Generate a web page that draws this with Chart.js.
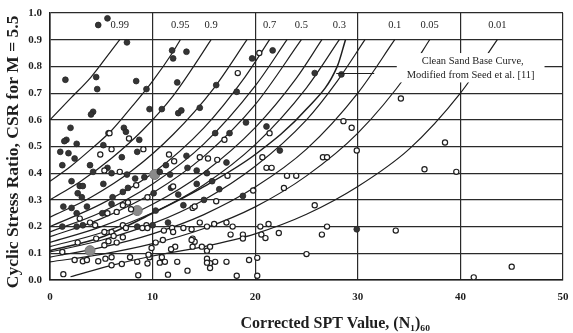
<!DOCTYPE html>
<html><head><meta charset="utf-8">
<script src="https://cdn.jsdelivr.net/npm/chart.js@4"></script>
<style>html,body{margin:0;padding:0;background:#fff}#wrap{width:573px;height:333px}</style>
</head><body><div id="wrap"><canvas id="c" width="573" height="333"></canvas></div>
<script>
// ---- data ----
const xTicks = [0, 10, 20, 30, 40, 50];
const yTicks = [0.0, 0.1, 0.2, 0.3, 0.4, 0.5, 0.6, 0.7, 0.8, 0.9, 1.0];

// probability curves [N1_60, CSR]
const curve099 = [[0,0.60],[2,0.68],[4,0.76],[6,0.86],[6.8,0.90]];
const curve095 = [[0,0.37],[2,0.425],[4,0.49],[6,0.56],[8,0.65],[10,0.745],[12,0.855],[12.7,0.90]];
const curve090 = [[0,0.30],[3,0.37],[6,0.456],[9,0.56],[12,0.69],[14,0.80],[15.7,0.90]];
const curve080 = [[0,0.235],[4,0.31],[8,0.41],[12,0.545],[16,0.72],[19.2,0.90]];
const curve070 = [[0,0.20],[5,0.285],[10,0.40],[15,0.57],[19,0.76],[21.4,0.90]];
const curve060 = [[0,0.18],[5,0.254],[10,0.36],[15,0.51],[20,0.727],[23.1,0.90]];
const curve050 = [[0,0.162],[5,0.23],[10,0.326],[15,0.463],[20,0.657],[24.5,0.90]];
const curve040 = [[0,0.141],[5,0.20],[10,0.284],[15,0.403],[20,0.571],[24,0.755],[26.5,0.90]];
const curve030 = [[0,0.125],[5,0.177],[10,0.252],[15,0.357],[20,0.507],[25,0.72],[28.2,0.90]];
const curve020 = [[0,0.105],[5,0.149],[10,0.211],[15,0.30],[20,0.426],[25,0.60],[28,0.745],[30.7,0.90]];
const curve010 = [[0,0.086],[5,0.122],[10,0.173],[15,0.245],[20,0.348],[25,0.49],[30,0.70],[33.6,0.90]];
const curve005 = [[0,0.068],[5,0.096],[10,0.136],[15,0.193],[20,0.274],[25,0.39],[30,0.55],[35,0.78],[37,0.90]];
const curve001 = [[2,0.012],[6,0.055],[10,0.09],[15,0.125],[20,0.173],[25,0.246],[30,0.35],[35,0.49],[40,0.70],[43.6,0.90]];
const baseCurve = [[0,0.11],[5,0.16],[10,0.25],[15,0.35],[20,0.47],[25,0.64],[28,0.80],[28.8,0.90]];

const curves = [curve099, curve095, curve090, curve080, curve070, curve060, curve050, curve040, curve030, curve020, curve010, curve005, curve001, baseCurve];
const curveLabels = ['0.99','0.95','0.9','','0.7','','0.5','','0.3','','0.1','0.05','0.01',''];

// liquefied sites (filled)
const liquefied = [[4.7,0.955],[5.6,0.98],[7.5,0.89],[1.5,0.75],[4.5,0.76],[4.6,0.715],[8.4,0.745],[9.4,0.715],[9.7,0.64],[10.9,0.64],[4.2,0.63],[4.0,0.62],[12.5,0.625],[12.8,0.635],[2.0,0.57],[1.6,0.525],[1.4,0.52],[2.6,0.51],[7.2,0.57],[7.4,0.555],[8.7,0.525],[5.7,0.55],
[11.9,0.86],[12.0,0.83],[13.3,0.855],[12.4,0.74],[14.6,0.645],[16.2,0.73],[18.2,0.705],[19.7,0.83],[21.7,0.86],[25.8,0.775],[28.4,0.77],[19.1,0.59],[21.1,0.575],[16.1,0.55],[17.5,0.55],[22.4,0.485],
[1.0,0.48],[1.8,0.475],[2.4,0.455],[1.2,0.43],[3.9,0.43],[5.2,0.505],[7.0,0.46],[8.5,0.48],[11.3,0.43],[13.3,0.465],[17.2,0.44],[13.4,0.42],[14.3,0.41],[15.3,0.40],[11.7,0.395],[10.7,0.405],[4.2,0.405],[5.6,0.42],[6.0,0.40],[7.5,0.395],[8.3,0.38],[9.2,0.385],[2.1,0.37],[2.9,0.352],[3.2,0.352],[2.7,0.325],[3.1,0.31],[5.2,0.36],[7.6,0.345],[7.1,0.33],[6.1,0.31],[6.0,0.285],[10.1,0.325],[11.8,0.345],[14.3,0.36],[15.8,0.37],[12.5,0.32],[1.3,0.275],[2.1,0.27],[2.6,0.25],[3.6,0.275],[5.1,0.25],[1.2,0.2],[2.6,0.2],[3.2,0.205],[8.5,0.2],[10.0,0.205],[11.5,0.215],[29.9,0.19],[13.0,0.28],[15.0,0.30],[18.8,0.315],[16.5,0.34],[10.3,0.26]];

// non-liquefied sites (open)
const nonLiquefied = [[20.4,0.85],[18.3,0.775],[21.4,0.55],[17.0,0.525],[20.7,0.46],[29.4,0.57],[29.9,0.485],[26.6,0.46],[27.0,0.46],[14.6,0.46],[15.4,0.455],[16.3,0.45],[28.6,0.595],[34.2,0.68],[38.5,0.515],[36.5,0.415],[39.6,0.405],[33.7,0.185],[45.0,0.05],[41.3,0.01],
[21.1,0.42],[21.6,0.42],[23.1,0.39],[24.0,0.39],[22.8,0.345],[19.8,0.335],[25.8,0.28],[16.2,0.295],[13.9,0.27],[14.1,0.275],[14.6,0.215],[15.3,0.2],[16.0,0.21],[17.2,0.215],[17.8,0.2],[20.5,0.2],[21.3,0.21],[27.0,0.2],[17.6,0.17],[18.8,0.17],[18.8,0.155],[20.6,0.17],[21.0,0.157],[22.3,0.176],[26.5,0.17],[13.9,0.155],[14.1,0.143],[13.9,0.125],[15.3,0.11],[15.3,0.08],[15.6,0.063],[16.1,0.068],[17.2,0.068],[19.4,0.075],[25.0,0.097],[20.2,0.083],[18.2,0.016],[20.2,0.016],
[11.6,0.47],[12.1,0.445],[17.3,0.39],[12.0,0.35],[7.7,0.53],[5.8,0.55],[6.0,0.49],[4.9,0.47],[9.1,0.49],[6.8,0.405],[8.4,0.355],[9.5,0.31],[5.3,0.41],[5.6,0.25],[6.5,0.255],[7.1,0.28],[7.6,0.29],[7.9,0.265],[2.9,0.23],[3.9,0.215],[4.4,0.205],[5.3,0.18],[6.0,0.18],[7.1,0.205],[7.4,0.195],[9.4,0.205],
[2.7,0.14],[1.2,0.105],[5.3,0.13],[6.5,0.14],[7.1,0.16],[6.2,0.165],[2.4,0.075],[3.2,0.07],[3.6,0.075],[4.7,0.07],[5.4,0.08],[6.0,0.085],[6.0,0.055],[7.0,0.06],[7.8,0.085],[8.5,0.068],[9.7,0.085],[9.5,0.062],[1.3,0.022],[8.6,0.018],[11.5,0.02],[13.4,0.035],[10.7,0.065],[11.2,0.068],[12.4,0.068],[10.9,0.085],[9.6,0.095],[9.9,0.12],[13.8,0.15],[12.2,0.125],[11.8,0.115],[14.8,0.125],[15.6,0.125],[15.3,0.065],[15.6,0.045],[9.0,0.195],[9.5,0.195],[11.1,0.185],[11.9,0.195],[12.0,0.18],[13.0,0.195],[13.8,0.19],[4.5,0.155],[5.7,0.145],[11.0,0.15],[10.3,0.14]];

// larger grey markers
const greySites = [[3.9,0.11],[8.5,0.26],[10.2,0.395]];

const annotationText = ['Clean Sand Base Curve,', 'Modified from Seed et al. [11]'];
const xTitle = 'Corrected SPT Value, (N\u2081)\u2086\u2080';
const yTitle = 'Cyclic Stress Ratio, CSR for M = 5.5';

// ---- chart ----
const toXY = a => a.map(p => ({x: p[0], y: p[1]}));
const ink = '#1e1e1e';
const serif = '"Liberation Serif", "DejaVu Serif", serif';

const datasets = [];
curves.forEach((c, i) => {
  datasets.push({type: 'line', data: toXY(c), borderColor: ink, borderWidth: i === curves.length - 1 ? 1.5 : 1.2,
    pointRadius: 0, fill: false, cubicInterpolationMode: 'monotone', order: 5});
});
datasets.push({type: 'scatter', data: toXY(greySites), pointRadius: 5, pointBackgroundColor: '#8a8a8a', pointBorderColor: '#777', pointBorderWidth: 1, order: 2});
datasets.push({type: 'scatter', data: toXY(liquefied), pointRadius: 2.9, pointBackgroundColor: '#353535', pointBorderColor: '#262626', pointBorderWidth: 0.8, order: 1});
datasets.push({type: 'scatter', data: toXY(nonLiquefied), pointRadius: 2.6, pointBackgroundColor: '#ffffff', pointBorderColor: '#1e1e1e', pointBorderWidth: 1.2, order: 0});

const overlay = {
  id: 'overlay',
  afterDatasetsDraw(chart) {
    const {ctx, scales: {x, y}, chartArea} = chart;
    ctx.save();
    // curve labels above the ends of the curves
    ctx.fillStyle = ink;
    ctx.font = '10.5px ' + serif;
    ctx.textAlign = 'center';
    ctx.textBaseline = 'middle';
    curves.forEach((c, i) => {
      if (!curveLabels[i]) return;
      const last = c[c.length - 1];
      ctx.fillText(curveLabels[i], x.getPixelForValue(last[0]), y.getPixelForValue(0.955));
    });
    // annotation box
    const bx0 = x.getPixelForValue(33.8), bx1 = x.getPixelForValue(48.2);
    const by0 = y.getPixelForValue(0.85), by1 = y.getPixelForValue(0.74);
    ctx.fillStyle = '#fff';
    ctx.fillRect(bx0, by0, bx1 - bx0, by1 - by0);
    ctx.fillStyle = ink;
    ctx.font = '10.5px ' + serif;
    const cx = (bx0 + bx1) / 2;
    ctx.fillText(annotationText[0], cx + 2, y.getPixelForValue(0.818));
    ctx.fillText(annotationText[1], cx, y.getPixelForValue(0.768));
    // leader line
    ctx.strokeStyle = ink;
    ctx.lineWidth = 1.1;
    ctx.beginPath();
    const ly = Math.round(y.getPixelForValue(0.775)) + 0.5;
    ctx.moveTo(x.getPixelForValue(27.9), ly);
    ctx.lineTo(x.getPixelForValue(31.6), ly);
    ctx.stroke();
    // x axis title (sits right of centre in the original)
    ctx.font = 'bold 16px ' + serif;
    ctx.textBaseline = 'alphabetic';
    ctx.fillText(xTitle, x.getPixelForValue(27.8), chartArea.bottom + 48);
    // y axis title
    ctx.translate(chartArea.left - 37, y.getPixelForValue(0.48));
    ctx.rotate(-Math.PI / 2);
    ctx.font = 'bold 17.5px ' + serif;
    ctx.textBaseline = 'middle';
    ctx.fillText(yTitle, 0, 0);
    ctx.restore();
  }
};

new Chart(document.getElementById('c'), {
  data: {datasets},
  options: {
    responsive: false,
    animation: false,
    devicePixelRatio: 1,
    layout: {padding: {top: 13, right: 10, left: 0, bottom: 0}},
    plugins: {legend: {display: false}, tooltip: {enabled: false}},
    scales: {
      x: {
        type: 'linear', min: 0, max: 50,
        afterBuildTicks: s => { s.ticks = xTicks.map(v => ({value: v})); },
        afterFit: s => { s.height = 53; s.paddingLeft = 0; s.paddingRight = 0; },
        grid: {color: '#2a2a2a', lineWidth: 1.2, drawTicks: false},
        border: {color: '#1e1e1e', width: 1.6},
        ticks: {color: ink, padding: 11, font: {family: serif, size: 11, weight: 'bold'}},
        title: {display: false}
      },
      y: {
        type: 'linear', min: 0, max: 1,
        afterBuildTicks: s => { s.ticks = yTicks.map(v => ({value: v})); },
        afterFit: s => { s.width = 50; s.paddingTop = 0; s.paddingBottom = 0; },
        grid: {color: '#2a2a2a', lineWidth: 1.2, drawTicks: false},
        border: {color: '#1e1e1e', width: 1.6},
        ticks: {color: ink, padding: 8, font: {family: serif, size: 11, weight: 'bold'}, callback: v => Number(v).toFixed(1)},
        title: {display: false}
      }
    }
  },
  plugins: [overlay]
});
</script></body></html>
